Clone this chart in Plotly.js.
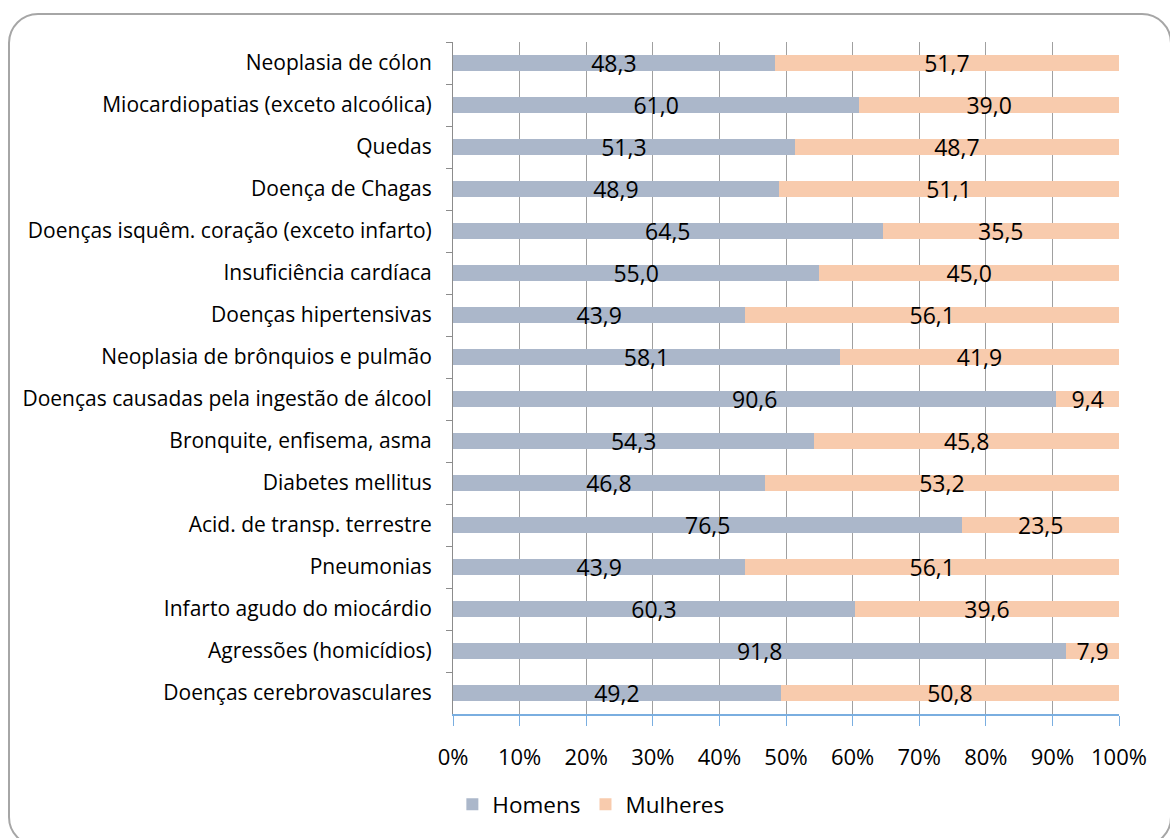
<!DOCTYPE html>
<html>
<head>
<meta charset="utf-8">
<script src="https://cdn.plot.ly/plotly-3.0.1.min.js"></script>
<style>
html,body{margin:0;padding:0;background:#fff;}
#wrap{position:relative;width:1170px;height:838px;overflow:hidden;}
#chart{position:absolute;left:0;top:0;width:1170px;height:838px;}
#frame{position:absolute;left:8px;top:13px;width:1164px;height:834px;border:2px solid #a6a6a6;border-radius:30px;box-sizing:border-box;pointer-events:none;}
</style>
</head>
<body>
<div id="wrap">
<div id="chart"></div>
<div id="frame"></div>
</div>
<script>
const categories = [
  "Neoplasia de cólon",
  "Miocardiopatias (exceto alcoólica)",
  "Quedas",
  "Doença de Chagas",
  "Doenças isquêm. coração (exceto infarto)",
  "Insuficiência cardíaca",
  "Doenças hipertensivas",
  "Neoplasia de brônquios e pulmão",
  "Doenças causadas pela ingestão de álcool",
  "Bronquite, enfisema, asma",
  "Diabetes mellitus",
  "Acid. de transp. terrestre",
  "Pneumonias",
  "Infarto agudo do miocárdio",
  "Agressões (homicídios)",
  "Doenças cerebrovasculares"
];
const homens = [48.3, 61.0, 51.3, 48.9, 64.5, 55.0, 43.9, 58.1, 90.6, 54.3, 46.8, 76.5, 43.9, 60.3, 91.8, 49.2];
const mulheres = [51.7, 39.0, 48.7, 51.1, 35.5, 45.0, 56.1, 41.9, 9.4, 45.8, 53.2, 23.5, 56.1, 39.6, 7.9, 50.8];
const xTickVals = [0,10,20,30,40,50,60,70,80,90,100];

const fmt = v => v.toFixed(1).replace('.', ',');
const FONT = "'Open Sans', Lato, sans-serif";

const common = {
  type: 'bar',
  orientation: 'h',
  y: categories,
  textposition: 'inside',
  insidetextanchor: 'middle',
  textangle: 0,
  constraintext: 'none',
  insidetextfont: {family: FONT, size: 23, color: '#000'},
  hoverinfo: 'none'
};

const traces = [
  Object.assign({}, common, {
    name: 'Homens', x: homens, text: homens.map(fmt),
    marker: {color: '#abb7ca'}
  }),
  Object.assign({}, common, {
    name: 'Mulheres', x: mulheres, text: mulheres.map(fmt),
    marker: {color: '#f8cbad'}
  })
];

const layout = {
  width: 1170, height: 838,
  paper_bgcolor: 'rgba(0,0,0,0)', plot_bgcolor: 'rgba(0,0,0,0)',
  margin: {l: 453, r: 51, t: 42, b: 124},
  barmode: 'stack',
  barnorm: 'percent',
  bargap: 0.62,
  separators: ',.',
  font: {family: FONT, size: 20, color: '#000'},
  showlegend: true,
  xaxis: {
    range: [0, 100],
    tickvals: xTickVals,
    ticktext: xTickVals.map(v => v + '%'),
    showgrid: true, gridcolor: '#a0a0a0', gridwidth: 1,
    zeroline: false,
    showline: true, linecolor: '#7aaee0', linewidth: 1.5,
    ticks: 'outside', ticklen: 10, tickcolor: '#7aaee0', tickwidth: 1,
    ticklabelstandoff: 13,
    tickfont: {family: FONT, size: 22, color: '#000'},
    fixedrange: true
  },
  yaxis: {
    autorange: 'reversed',
    showline: true, linecolor: '#8c8c8c', linewidth: 1,
    ticks: 'outside', ticklen: 6, tickcolor: '#8c8c8c',
    tickson: 'boundaries',
    showgrid: false,
    ticklabelstandoff: 16,
    tickfont: {family: FONT, size: 21, color: '#000'},
    fixedrange: true
  },
  legend: {
    orientation: 'h',
    x: 0.207, xanchor: 'center',
    y: -0.135, yanchor: 'middle',
    font: {family: FONT, size: 22.5, color: '#000'},
    itemwidth: 30,
    traceorder: 'normal'
  }
};

Plotly.newPlot('chart', traces, layout, {displayModeBar: false, staticPlot: true});
</script>
</body>
</html>
